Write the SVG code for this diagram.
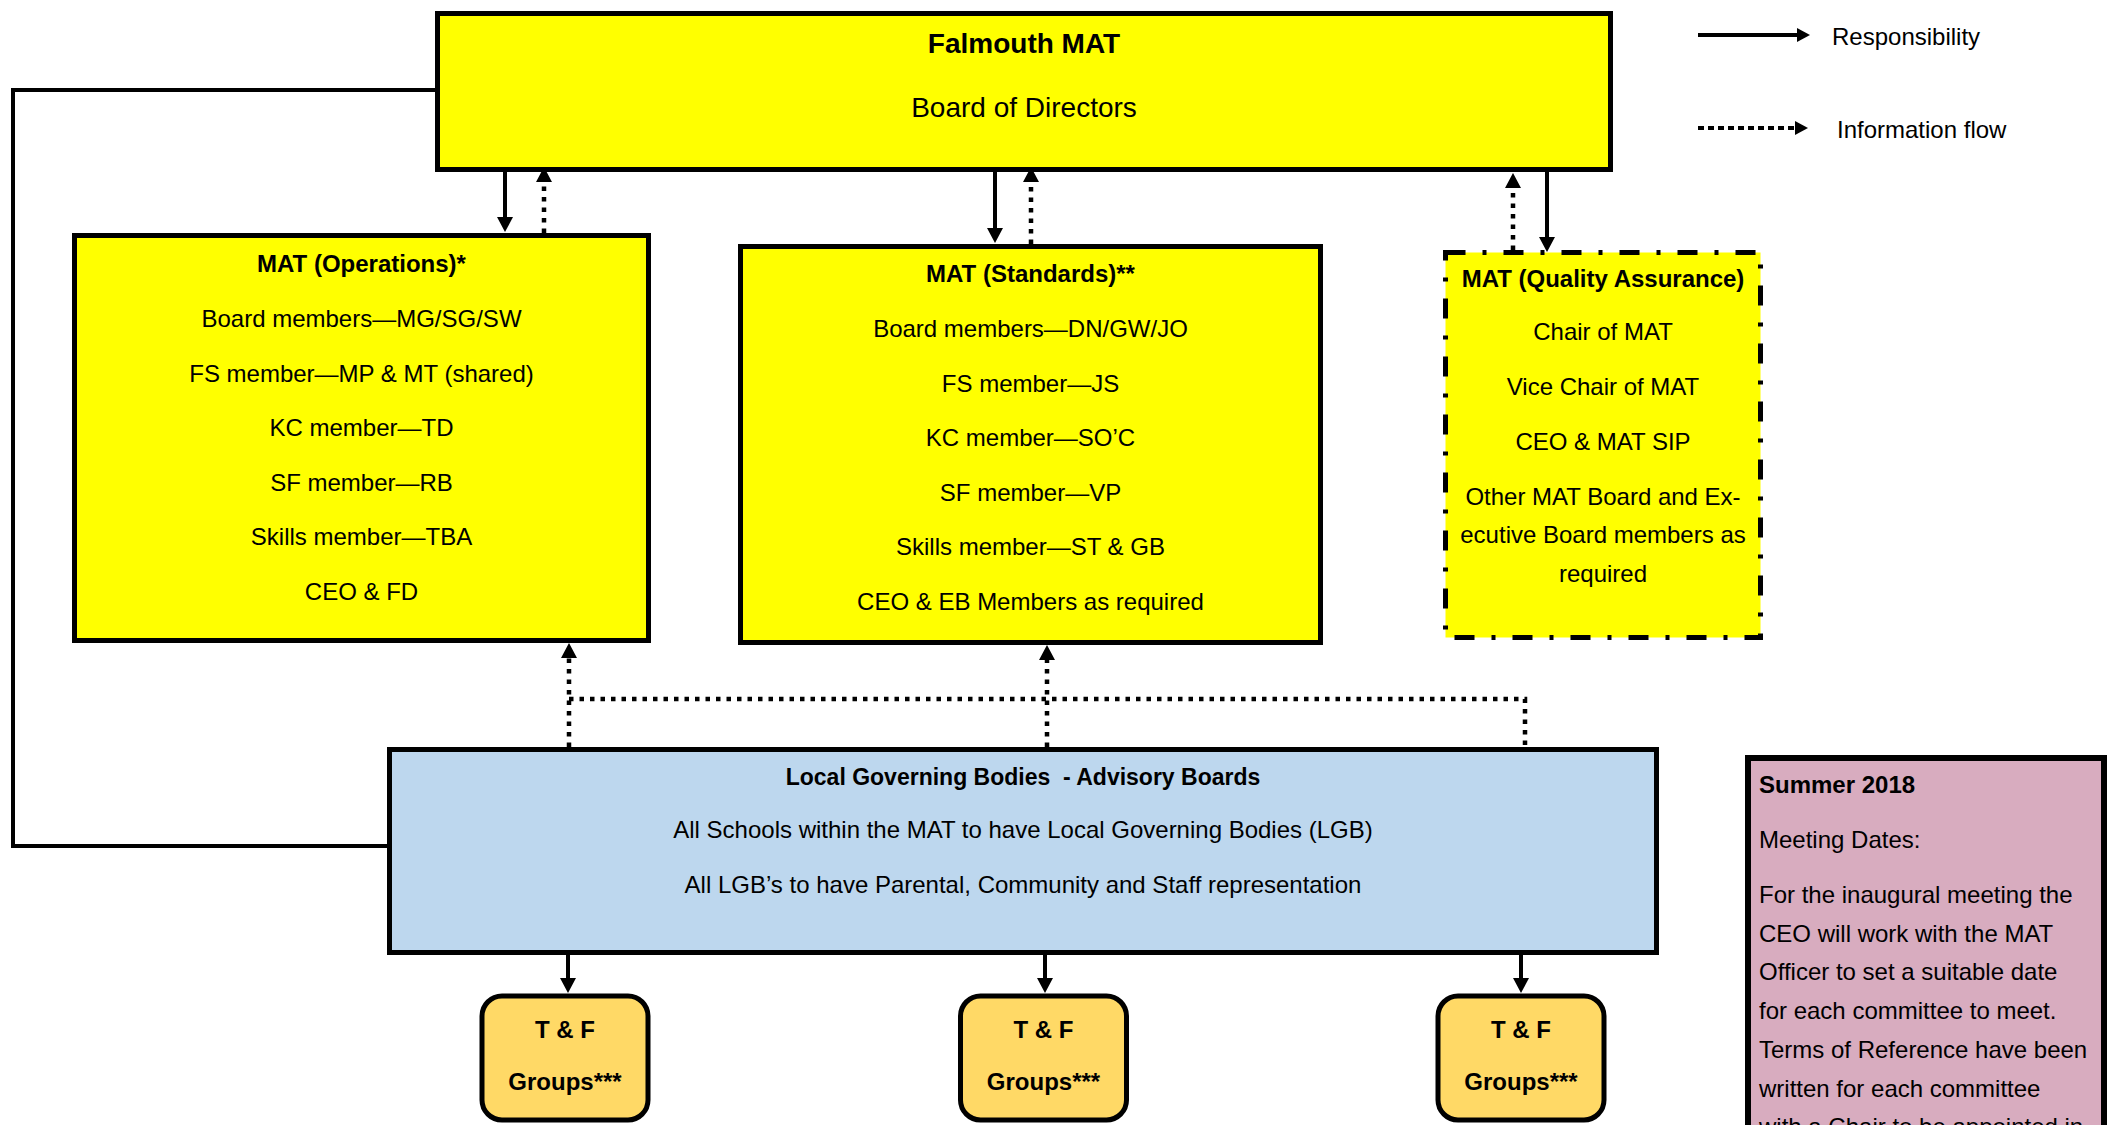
<svg xmlns="http://www.w3.org/2000/svg" width="2114" height="1125" viewBox="0 0 2114 1125">
<style>
text{font-family:"Liberation Sans",Arial,sans-serif;fill:#000;font-size:24px}
.c{text-anchor:middle}
.b{font-weight:bold}
.box{stroke:#000;stroke-width:5}
.yel{fill:#FFFF00}
.solid{fill:none;stroke:#000;stroke-width:4}
.dot{fill:none;stroke:#000;stroke-width:4.5;stroke-dasharray:4.5 6}
.ah{fill:#000;stroke:none}
</style>
<defs>
<marker id="arr" markerUnits="userSpaceOnUse" viewBox="0 0 15 16" markerWidth="15" markerHeight="16" refX="0" refY="8" orient="auto" overflow="visible">
<path class="ah" d="M0,0 L15,8 L0,16 z"/>
</marker>
<marker id="arrL" markerUnits="userSpaceOnUse" viewBox="0 0 13 14" markerWidth="13" markerHeight="14" refX="0" refY="7" orient="auto" overflow="visible">
<path class="ah" d="M0,0 L13,7 L0,14 z"/>
</marker>
</defs>
<rect width="2114" height="1125" fill="#fff"/>

<g id="connectors">
<polyline class="solid" stroke-width="4.5" points="435,90 13,90 13,846 387,846"/>
<line class="solid" x1="505" y1="172" x2="505" y2="217" marker-end="url(#arr)"/>
<line class="solid" x1="995" y1="172" x2="995" y2="228" marker-end="url(#arr)"/>
<line class="solid" x1="1547" y1="172" x2="1547" y2="237" marker-end="url(#arr)"/>
<line class="dot" x1="544" y1="233" x2="544" y2="182" marker-end="url(#arr)"/>
<line class="dot" x1="1031" y1="244" x2="1031" y2="182" marker-end="url(#arr)"/>
<line class="dot" x1="1513" y1="250" x2="1513" y2="188" marker-end="url(#arr)"/>
<line class="dot" x1="569" y1="747" x2="569" y2="658" marker-end="url(#arr)"/>
<line class="dot" x1="1047" y1="747" x2="1047" y2="660" marker-end="url(#arr)"/>
<polyline class="dot" points="569,699 1525,699 1525,747"/>
<line class="solid" x1="568" y1="955" x2="568" y2="978" marker-end="url(#arr)"/>
<line class="solid" x1="1045" y1="955" x2="1045" y2="978" marker-end="url(#arr)"/>
<line class="solid" x1="1521" y1="955" x2="1521" y2="978" marker-end="url(#arr)"/>
</g>

<g id="legend">
<line class="solid" stroke-width="5" x1="1698" y1="35" x2="1797" y2="35" marker-end="url(#arrL)"/>
<text x="1832" y="45">Responsibility</text>
<line class="solid" stroke-width="5" stroke-dasharray="6 4" x1="1698" y1="128" x2="1795" y2="128" marker-end="url(#arrL)"/>
<text x="1837" y="138">Information flow</text>
</g>

<g id="board">
<rect class="box yel" x="437.5" y="13.5" width="1173" height="156"/>
<text class="c b" x="1024" y="53" font-size="28" style="font-size:28px">Falmouth MAT</text>
<text class="c" x="1024" y="117" style="font-size:28px">Board of Directors</text>
</g>

<g id="operations">
<rect class="box yel" x="74.5" y="235.5" width="574" height="405"/>
<text class="c b" x="361.5" y="272">MAT (Operations)*</text>
<text class="c" x="361.5" y="327">Board members—MG/SG/SW</text>
<text class="c" x="361.5" y="382">FS member—MP &amp; MT (shared)</text>
<text class="c" x="361.5" y="436">KC member—TD</text>
<text class="c" x="361.5" y="491">SF member—RB</text>
<text class="c" x="361.5" y="545">Skills member—TBA</text>
<text class="c" x="361.5" y="600">CEO &amp; FD</text>
</g>

<g id="standards">
<rect class="box yel" x="740.5" y="246.5" width="580" height="396"/>
<text class="c b" x="1030.5" y="282">MAT (Standards)**</text>
<text class="c" x="1030.5" y="337">Board members—DN/GW/JO</text>
<text class="c" x="1030.5" y="392">FS member—JS</text>
<text class="c" x="1030.5" y="446">KC member—SO’C</text>
<text class="c" x="1030.5" y="501">SF member—VP</text>
<text class="c" x="1030.5" y="555">Skills member—ST &amp; GB</text>
<text class="c" x="1030.5" y="610">CEO &amp; EB Members as required</text>
</g>

<g id="quality">
<rect class="box yel" x="1445.5" y="252.5" width="315" height="385" stroke-dasharray="20 17 4 17"/>
<text class="c b" x="1603" y="287">MAT (Quality Assurance)</text>
<text class="c" x="1603" y="340">Chair of MAT</text>
<text class="c" x="1603" y="395">Vice Chair of MAT</text>
<text class="c" x="1603" y="450">CEO &amp; MAT SIP</text>
<text class="c" x="1603" y="505">Other MAT Board and Ex-</text>
<text class="c" x="1603" y="543">ecutive Board members as</text>
<text class="c" x="1603" y="582">required</text>
</g>

<g id="lgb">
<rect class="box" fill="#BDD7EE" x="389.5" y="749.5" width="1267" height="203"/>
<text class="c b" x="1023" y="785" style="font-size:23px" xml:space="preserve">Local Governing Bodies  - Advisory Boards</text>
<text class="c" x="1023" y="838">All Schools within the MAT to have Local Governing Bodies (LGB)</text>
<text class="c" x="1023" y="893">All LGB’s to have Parental, Community and Staff representation</text>
</g>

<g id="tf1">
<rect class="box" fill="#FFD966" x="482" y="996" width="166" height="124" rx="20"/>
<text class="c b" x="565" y="1038">T &amp; F</text>
<text class="c b" x="565" y="1090">Groups***</text>
</g>
<g id="tf2">
<rect class="box" fill="#FFD966" x="960.5" y="996" width="166" height="124" rx="20"/>
<text class="c b" x="1043.5" y="1038">T &amp; F</text>
<text class="c b" x="1043.5" y="1090">Groups***</text>
</g>
<g id="tf3">
<rect class="box" fill="#FFD966" x="1438" y="996" width="166" height="124" rx="20"/>
<text class="c b" x="1521" y="1038">T &amp; F</text>
<text class="c b" x="1521" y="1090">Groups***</text>
</g>

<g id="summer">
<rect fill="#D8ACBF" stroke="#000" stroke-width="6" x="1748" y="758" width="356" height="420"/>
<text class="b" x="1759" y="793">Summer 2018</text>
<text x="1759" y="848">Meeting Dates:</text>
<text x="1759" y="903">For the inaugural meeting the</text>
<text x="1759" y="942">CEO will work with the MAT</text>
<text x="1759" y="980">Officer to set a suitable date</text>
<text x="1759" y="1019">for each committee to meet.</text>
<text x="1759" y="1058">Terms of Reference have been</text>
<text x="1759" y="1097">written for each committee</text>
<text x="1759" y="1135">with a Chair to be appointed in</text>
</g>
</svg>
